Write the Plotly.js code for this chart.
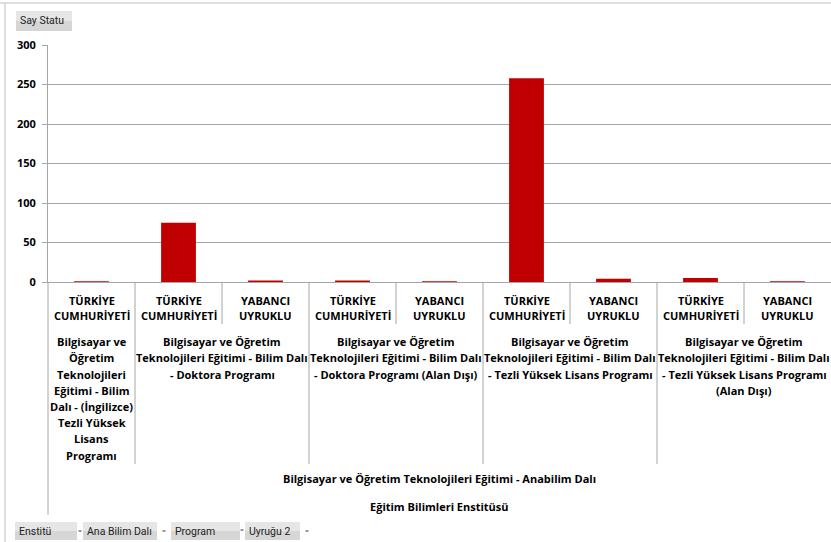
<!DOCTYPE html>
<html>
<head>
<meta charset="utf-8">
<script src="https://cdn.plot.ly/plotly-3.0.1.min.js"></script>
<style>
  html, body { margin: 0; padding: 0; background: #ffffff; }
  #chart { width: 831px; height: 542px; }
</style>
</head>
<body>
<div id="chart"></div>
<script>
// ---- data ----
const uyruk = [
  'TÜRKİYE<br>CUMHURİYETİ',
  'TÜRKİYE<br>CUMHURİYETİ', 'YABANCI<br>UYRUKLU',
  'TÜRKİYE<br>CUMHURİYETİ', 'YABANCI<br>UYRUKLU',
  'TÜRKİYE<br>CUMHURİYETİ', 'YABANCI<br>UYRUKLU',
  'TÜRKİYE<br>CUMHURİYETİ', 'YABANCI<br>UYRUKLU'
];
const P1 = 'Bilgisayar ve<br>Öğretim<br>Teknolojileri<br>Eğitimi - Bilim<br>Dalı - (İngilizce)<br>Tezli Yüksek<br>Lisans<br>Programı';
const P2 = 'Bilgisayar ve Öğretim<br>Teknolojileri Eğitimi - Bilim Dalı<br>- Doktora Programı';
const P3 = 'Bilgisayar ve Öğretim<br>Teknolojileri Eğitimi - Bilim Dalı<br>- Doktora Programı (Alan Dışı)';
const P4 = 'Bilgisayar ve Öğretim<br>Teknolojileri Eğitimi - Bilim Dalı<br>- Tezli Yüksek Lisans Programı';
const P5 = 'Bilgisayar ve Öğretim<br>Teknolojileri Eğitimi - Bilim Dalı<br>- Tezli Yüksek Lisans Programı<br>(Alan Dışı)';
const programs = [P1, P2, P2, P3, P3, P4, P4, P5, P5];
const anaBilimDali = 'Bilgisayar ve Öğretim Teknolojileri Eğitimi - Anabilim Dalı';
const enstitu = 'Eğitim Bilimleri Enstitüsü';
const values = [1, 75, 2, 2, 1, 258, 4, 5, 1];
const yTicks = [0, 50, 100, 150, 200, 250, 300];
const valueButton = 'Say Statu';
const fieldButtons = ['Enstitü', 'Ana Bilim Dalı', 'Program', 'Uyruğu 2'];

// ---- geometry helpers (pixel -> paper) ----
const W = 831, H = 542, ML = 48, MR = 0, MT = 45, MB = 260;
const PW = W - ML - MR, PH = H - MT - MB, BASE = H - MB;
const X = px => (px - ML) / PW;
const Y = py => (BASE - py) / PH;
const n = values.length;
const bx = i => ML + i * PW / n;

const keys = programs.map((p, i) => p.replace(/<br>/g, ' ') + ' | ' + uyruk[i].replace(/<br>/g, ' ') + ' #' + i);

const lblFont = {family: '"Open Sans", "Noto Sans", sans-serif', size: 11, color: '#000000', weight: 700};
const btnFont = {family: 'Roboto, "Noto Sans", sans-serif', size: 10.5, color: '#222222'};
const lineCol = '#a6a6a6';

const shapes = [];
const annotations = [];

// outer chart frame
shapes.push({type: 'line', xref: 'paper', yref: 'paper', x0: X(0), x1: X(W), y0: Y(3), y1: Y(3), line: {color: '#bfbfbf', width: 1}});
shapes.push({type: 'line', xref: 'paper', yref: 'paper', x0: X(5), x1: X(5), y0: Y(3), y1: Y(H), line: {color: '#bfbfbf', width: 1}});

// category dividers
for (let i = 0; i < n; i++) {
  let yEnd;
  if (i === 0) yEnd = 515;
  else if (programs[i] !== programs[i - 1]) yEnd = 464;
  else yEnd = 324;
  shapes.push({type: 'line', xref: 'paper', yref: 'paper', x0: X(bx(i)), x1: X(bx(i)), y0: Y(BASE), y1: Y(yEnd), line: {color: lineCol, width: 1}});
}

// level 1: uyruk labels
uyruk.forEach((u, i) => {
  u.split('<br>').forEach((t, k) => {
    annotations.push({xref: 'paper', yref: 'paper', x: X((bx(i) + bx(i + 1)) / 2), y: Y(300 + k * 15.2), text: t,
      showarrow: false, xanchor: 'center', yanchor: 'middle', font: lblFont});
  });
});

// level 2: program labels (grouped)
const groups = [];
programs.forEach((p, i) => {
  if (!groups.length || groups[groups.length - 1].name !== p) groups.push({name: p, start: i, end: i});
  else groups[groups.length - 1].end = i;
});
groups.forEach(g => {
  const cx = (bx(g.start) + bx(g.end + 1)) / 2;
  g.name.split('<br>').forEach((t, k) => {
    annotations.push({xref: 'paper', yref: 'paper', x: X(cx), y: Y(341.7 + k * 16.2), text: t,
      showarrow: false, xanchor: 'center', yanchor: 'middle', font: lblFont});
  });
});

// level 3 and 4
annotations.push({xref: 'paper', yref: 'paper', x: X((bx(0) + bx(n)) / 2), y: Y(478), text: anaBilimDali,
  showarrow: false, xanchor: 'center', yanchor: 'middle', font: lblFont});
annotations.push({xref: 'paper', yref: 'paper', x: X((bx(0) + bx(n)) / 2), y: Y(506), text: enstitu,
  showarrow: false, xanchor: 'center', yanchor: 'middle', font: lblFont});

// pivot field buttons
function button(x0, x1, y0, y1, text) {
  shapes.push({type: 'rect', xref: 'paper', yref: 'paper', x0: X(x0), x1: X(x1), y0: Y(y0), y1: Y((y0 + y1) / 2),
    line: {width: 0}, fillcolor: '#e6e6e6'});
  shapes.push({type: 'rect', xref: 'paper', yref: 'paper', x0: X(x0), x1: X(x1), y0: Y((y0 + y1) / 2), y1: Y(y1),
    line: {width: 0}, fillcolor: '#d6d6d6'});
  annotations.push({xref: 'paper', yref: 'paper', x: X(x0 + 2), y: Y((y0 + y1) / 2), text: text,
    showarrow: false, xanchor: 'left', yanchor: 'middle', font: btnFont});
}
button(16, 72, 11, 31, valueButton);
const btnX = [[15, 77], [83, 157], [171, 240], [245, 300]];
fieldButtons.forEach((t, i) => button(btnX[i][0], btnX[i][1], 522, 540, t));
// small dropdown marks
[[80, 531], [164, 531], [242, 530], [307, 531]].forEach(p => {
  shapes.push({type: 'line', xref: 'paper', yref: 'paper', x0: X(p[0] - 1.5), x1: X(p[0] + 1.5), y0: Y(p[1]), y1: Y(p[1]),
    line: {color: '#333333', width: 1}});
});

const trace = {
  type: 'bar',
  x: keys,
  y: values,
  width: 0.4,
  marker: {color: '#c00000', line: {width: 0}},
  hoverinfo: 'y'
};

const layout = {
  width: W, height: H,
  margin: {l: ML, r: MR, t: MT, b: MB, pad: 0},
  paper_bgcolor: '#ffffff', plot_bgcolor: '#ffffff',
  showlegend: false,
  bargap: 0.6,
  xaxis: {type: 'category', showticklabels: false, ticks: '', showgrid: false, zeroline: false,
    showline: true, linecolor: lineCol, linewidth: 1, fixedrange: true},
  yaxis: {range: [0, 300], tickvals: yTicks, ticktext: yTicks.map(String), showgrid: true, gridcolor: lineCol, gridwidth: 1,
    zeroline: false, showline: true, linecolor: lineCol, linewidth: 1, ticks: 'outside', ticklen: 5, tickcolor: lineCol,
    ticklabelstandoff: 4,
    tickfont: {family: '"Open Sans", "Noto Sans", sans-serif', size: 11, color: '#000000', weight: 700}, fixedrange: true},
  shapes: shapes,
  annotations: annotations
};

Plotly.newPlot('chart', [trace], layout, {displayModeBar: false, staticPlot: true});
</script>
</body>
</html>
